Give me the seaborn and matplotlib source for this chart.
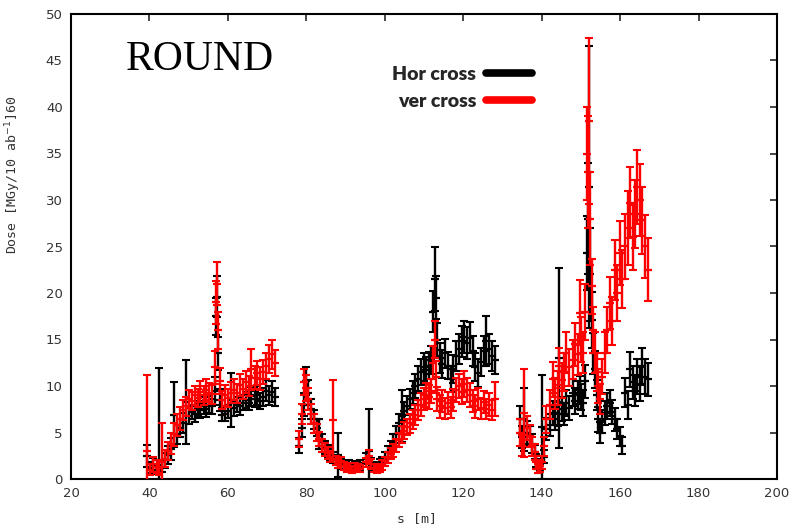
import numpy as np
import pandas as pd
import matplotlib
matplotlib.use("Agg")
import matplotlib.pyplot as plt
import seaborn as sns
from matplotlib.lines import Line2D

# ---------------- data ----------------
S_A = [39.5, 40.2, 41.0, 41.8, 42.5, 43.3, 44.0, 44.8, 45.5, 46.3,
       47.0, 47.8, 48.5, 49.3, 50.0, 50.8, 51.5, 52.3, 53.0, 53.8,
       54.5, 55.3, 56.0, 56.6, 57.0, 57.3, 57.6, 58.0, 58.6, 59.3,
       60.0, 60.8, 61.5, 62.3, 63.0, 63.8, 64.5, 65.3, 66.0, 66.8,
       67.5, 68.3, 69.0, 69.8, 70.5, 71.2, 72.0]
HOR_A = [2.5, 1.2, 1.5, 1.0, 2.0, 1.3, 2.0, 2.6, 3.2, 6.9,
         4.8, 5.5, 6.0, 8.3, 6.8, 7.2, 7.0, 7.6, 7.4, 7.9,
         7.5, 8.0, 7.8, 9.5, 17.5, 19.6, 13.5, 8.5, 6.9, 7.0,
         7.3, 8.5, 7.6, 8.0, 7.8, 8.2, 8.5, 8.2, 8.9, 8.6,
         9.0, 8.4, 8.8, 9.5, 9.0, 9.4, 8.8]
HOR_A_ERR = [1.2, 0.6, 0.8, 0.5, 9.9, 0.6, 0.8, 1.0, 1.2, 3.5,
             1.0, 1.0, 1.1, 4.5, 0.9, 0.8, 0.9, 0.8, 0.8, 0.9,
             0.8, 0.9, 0.8, 1.5, 2.0, 2.2, 1.8, 1.2, 0.7, 0.8,
             0.7, 2.9, 0.8, 0.8, 0.9, 0.8, 0.9, 0.8, 1.0, 0.9,
             1.0, 0.9, 1.0, 1.1, 1.0, 1.1, 1.0]
VER_A = [3.0, 1.0, 1.6, 1.3, 1.2, 1.8, 2.2, 3.0, 3.8, 4.8,
         5.8, 6.5, 7.4, 7.8, 8.6, 8.4, 9.0, 8.7, 9.4, 9.0,
         9.6, 9.3, 9.1, 12.0, 19.0, 21.0, 16.0, 10.5, 8.5, 9.0,
         8.7, 9.3, 9.6, 9.2, 10.1, 9.7, 10.4, 10.0, 11.8, 10.9,
         11.4, 10.8, 11.5, 12.2, 12.9, 13.4, 12.5]
VER_A_ERR = [8.2, 0.6, 0.8, 0.7, 0.8, 4.2, 0.9, 1.0, 1.1, 1.2,
             1.2, 1.2, 1.1, 1.0, 1.0, 1.0, 1.0, 1.0, 1.1, 1.0,
             1.1, 1.0, 1.0, 1.8, 2.3, 2.3, 2.0, 1.4, 1.0, 1.1,
             1.0, 1.1, 1.1, 1.0, 1.2, 1.1, 1.2, 1.1, 2.2, 1.2,
             1.3, 1.2, 1.3, 1.4, 1.5, 1.6, 1.4]

S_B = [78.2, 78.8, 79.4, 79.9, 80.5, 81.2, 81.9, 82.6, 83.3, 84.0,
       84.7, 85.4, 86.1, 86.8, 87.5, 88.2, 88.9, 89.6, 90.3, 91.0,
       91.7, 92.4, 93.1, 93.8, 95.2, 95.9, 96.6, 97.3, 98.0, 98.7,
       99.4, 100.1, 100.8, 101.5, 102.2, 102.9, 103.6, 104.3, 105.0, 105.7,
       106.4, 107.1, 107.8, 108.5, 109.2, 109.9, 110.6, 111.3, 111.9, 112.4,
       112.7, 113.0, 113.4, 114.0, 114.7, 115.4, 116.1, 116.8, 117.5, 118.2,
       118.9, 119.6, 120.3, 121.0, 121.7, 122.4, 123.1, 123.8, 124.5, 125.2,
       125.9, 126.6, 127.3, 128.0]
HOR_B = [3.6, 5.5, 8.0, 10.5, 9.3, 7.5, 6.4, 5.5, 4.8, 4.0,
         3.4, 3.0, 2.6, 2.3, 2.0, 2.6, 1.6, 1.4, 1.2, 1.5,
         1.2, 1.4, 1.3, 1.5, 2.2, 3.0, 1.8, 1.4, 1.3, 1.6,
         1.9, 2.3, 2.9, 3.4, 4.0, 4.8, 6.0, 6.8, 7.3, 7.9,
         8.6, 9.3, 10.0, 10.8, 11.5, 12.0, 11.7, 12.2, 12.8, 18.0,
         21.5, 19.5, 15.0, 13.0, 12.4, 13.5, 12.2, 10.8, 11.8, 13.2,
         14.0, 14.8, 15.3, 14.6, 15.2, 13.8, 12.0, 11.4, 12.6, 13.8,
         14.8, 14.0, 13.2, 12.8]
HOR_B_ERR = [0.8, 1.0, 1.2, 1.5, 1.3, 1.1, 1.0, 0.9, 1.6, 0.8,
             0.7, 0.7, 0.6, 0.6, 0.5, 2.4, 0.5, 0.4, 0.4, 0.5,
             0.4, 0.5, 0.4, 0.5, 0.6, 4.5, 0.5, 0.4, 0.4, 0.5,
             0.5, 0.6, 0.7, 0.7, 0.8, 0.9, 1.0, 2.8, 1.0, 1.0,
             1.1, 1.2, 1.3, 1.3, 1.4, 1.5, 1.4, 1.5, 1.5, 2.2,
             3.4, 2.3, 1.8, 1.6, 1.5, 1.6, 1.5, 1.4, 1.5, 1.6,
             1.6, 1.7, 1.7, 1.7, 1.7, 1.6, 1.5, 1.5, 1.5, 1.6,
             2.7, 1.6, 1.6, 1.5]
VER_B = [4.3, 7.0, 10.4, 9.8, 8.6, 7.0, 6.0, 5.0, 4.3, 3.6,
         3.2, 2.8, 2.4, 6.3, 2.0, 1.7, 1.9, 1.4, 1.1, 1.3,
         1.0, 1.3, 1.2, 1.1, 1.8, 2.5, 1.6, 1.2, 1.0, 1.2,
         1.5, 1.9, 2.3, 2.7, 3.1, 3.6, 4.2, 4.8, 5.2, 5.6,
         6.0, 6.4, 6.9, 7.4, 8.0, 8.6, 9.0, 8.8, 9.5, 12.5,
         15.0, 11.0, 8.6, 7.8, 8.4, 7.6, 8.2, 7.7, 8.5, 9.6,
         10.0, 9.4, 10.2, 9.6, 9.0, 8.4, 7.8, 8.6, 7.6, 8.3,
         7.5, 8.0, 7.4, 8.6]
VER_B_ERR = [0.9, 1.1, 1.4, 1.4, 1.2, 1.1, 1.0, 0.9, 0.8, 0.7,
             0.7, 0.6, 0.6, 4.3, 0.5, 0.5, 0.5, 0.4, 0.4, 0.4,
             0.4, 0.4, 0.4, 0.4, 0.5, 0.6, 0.5, 0.4, 0.4, 0.4,
             0.5, 0.5, 0.6, 0.6, 0.7, 0.7, 0.8, 0.9, 0.9, 0.9,
             1.0, 1.0, 1.1, 1.1, 1.2, 1.2, 1.3, 1.3, 1.3, 1.8,
             2.0, 1.7, 1.3, 1.2, 1.2, 1.1, 1.2, 1.1, 1.2, 1.3,
             1.3, 1.3, 1.4, 1.3, 1.3, 1.2, 1.2, 1.2, 1.1, 1.2,
             1.1, 1.2, 1.1, 1.8]

S_C = [134.4, 135.0, 135.6, 136.2, 136.9, 137.5, 138.2, 138.6, 139.0, 139.5,
       140.0, 140.6, 141.2, 142.0, 142.8, 143.4, 144.1, 144.5, 145.2, 145.8,
       146.3, 147.0, 147.9, 148.6, 149.2, 149.7, 150.1, 150.5, 151.0, 151.5,
       151.8, 152.0, 152.3, 152.8, 153.2, 153.6, 154.0, 154.3, 154.8, 155.4,
       156.1, 156.7, 157.4, 158.0, 158.7, 159.3, 160.0, 160.6, 161.3, 161.9,
       162.6, 163.2, 163.8, 164.4, 165.0, 165.7, 166.4, 167.0]
HOR_C = [6.4, 4.5, 6.4, 5.0, 4.6, 3.8, 2.9, 2.0, 1.1, 1.6,
         5.6, 2.4, 5.4, 5.8, 7.1, 6.5, 7.0, 13.0, 7.5, 7.0,
         8.2, 7.6, 9.3, 8.4, 9.0, 9.6, 8.8, 8.2, 10.5, 24.3,
         28.0, 31.4, 22.0, 17.1, 13.5, 11.8, 9.0, 6.4, 5.0, 6.2,
         7.1, 7.8, 8.2, 7.2, 6.4, 5.4, 4.6, 3.6, 9.3, 8.0,
         11.8, 10.4, 9.5, 11.0, 10.2, 12.1, 11.0, 10.7]
HOR_C_ERR = [1.5, 1.2, 3.4, 1.2, 1.1, 1.0, 0.8, 0.7, 0.5, 0.6,
             5.6, 0.7, 1.2, 1.2, 1.3, 1.2, 1.3, 9.7, 1.3, 1.2,
             1.4, 1.3, 1.5, 1.4, 1.5, 1.5, 1.4, 1.4, 1.8, 4.0,
             6.0, 15.2, 5.0, 3.0, 2.2, 2.0, 1.6, 1.3, 1.1, 1.2,
             1.3, 1.4, 1.4, 1.3, 1.2, 1.1, 1.0, 0.9, 1.6, 1.5,
             1.9, 1.8, 1.7, 1.9, 1.8, 2.0, 1.9, 1.8]
VER_C = [5.0, 3.6, 7.1, 5.5, 4.6, 3.5, 2.9, 1.8, 1.1, 1.4,
         1.8, 3.5, 6.4, 8.0, 10.7, 9.2, 9.8, 12.1, 10.6, 11.5,
         13.6, 12.0, 12.8, 14.5, 13.4, 17.9, 15.0, 13.6, 18.0, 35.0,
         33.0, 38.5, 28.0, 20.7, 16.0, 13.6, 11.5, 10.0, 8.6, 11.0,
         13.6, 16.0, 18.9, 17.0, 22.5, 20.0, 24.3, 21.5, 25.0, 27.0,
         29.7, 26.0, 28.5, 31.4, 30.0, 27.8, 25.0, 22.5]
VER_C_ERR = [1.4, 1.1, 4.7, 1.3, 1.2, 1.0, 0.9, 0.7, 0.5, 0.6,
             0.7, 1.0, 1.4, 1.6, 1.9, 1.7, 1.8, 2.0, 1.9, 2.0,
             2.2, 2.0, 2.1, 2.3, 2.2, 3.5, 2.4, 2.2, 3.0, 5.0,
             6.0, 8.9, 5.0, 3.0, 2.5, 2.2, 2.0, 1.8, 1.6, 1.9,
             2.2, 2.5, 2.8, 2.6, 3.2, 3.0, 3.4, 3.1, 3.5, 4.0,
             3.8, 3.5, 3.7, 4.0, 3.9, 3.6, 3.4, 3.4]

SERIES = ["Hor cross", "ver cross"]
COLORS = ["#000000", "#ff0000"]
X_TICKS = [20, 40, 60, 80, 100, 120, 140, 160, 180, 200]
Y_TICKS = [0, 5, 10, 15, 20, 25, 30, 35, 40, 45, 50]

# ---------------- table ----------------
S = S_A + S_B + S_C
frames = []
for name, vals, errs in [("Hor cross", HOR_A + HOR_B + HOR_C, HOR_A_ERR + HOR_B_ERR + HOR_C_ERR),
                         ("ver cross", VER_A + VER_B + VER_C, VER_A_ERR + VER_B_ERR + VER_C_ERR)]:
    frames.append(pd.DataFrame({"s": S, "dose": vals, "err": errs, "series": name}))
df = pd.concat(frames, ignore_index=True)

# ---------------- plot ----------------
sns.set_style("white")
plt.rcParams["font.family"] = ["DejaVu Sans"]

fig = plt.figure(figsize=(7.92, 5.30), dpi=100)
ax = fig.add_axes([71 / 792, 51 / 530, 706 / 792, 465 / 530])

for i, (name, color) in enumerate(zip(SERIES, COLORS)):
    sub = df[df["series"] == name]
    ax.errorbar(sub["s"], sub["dose"], yerr=sub["err"], fmt="none",
                ecolor=color, elinewidth=1.7, capsize=3.0, capthick=1.5,
                zorder=2 + 2 * i)
    sns.scatterplot(data=sub, x="s", y="dose", color=color, marker="_",
                    s=40, linewidth=1.6, legend=False, ax=ax, zorder=3 + 2 * i)

ax.set_xlim(20, 200)
ax.set_ylim(0, 50)
ax.set_xticks(X_TICKS)
ax.set_yticks(Y_TICKS)
ax.tick_params(direction="in", top=True, right=True, length=5, width=1.2,
               labelsize=9.5, labelcolor="#333333", pad=6)
for sp in ax.spines.values():
    sp.set_visible(True)
    sp.set_linewidth(1.5)
    sp.set_color("black")

ax.set_xlabel("s [m]", fontsize=9.5, family="DejaVu Sans Mono", color="#333333")
ax.xaxis.set_label_coords(0.49, -0.072)
ax.set_ylabel("Dose [MGy/10 ab$^{-1}$]60", fontsize=9.5, family="DejaVu Sans Mono",
              color="#333333")
ax.yaxis.set_label_coords(-0.068, 0.655)

ax.text(0.078, 0.88, "ROUND", transform=ax.transAxes, va="baseline", ha="left",
        family="Liberation Serif", fontsize=30, color="black")

handles = [Line2D([0], [0], color=c, lw=5.5, solid_capstyle="round") for c in COLORS]
ax.legend(handles, SERIES, loc="upper left", bbox_to_anchor=(0.455, 0.888),
          frameon=False, markerfirst=False, handlelength=2.4, handletextpad=0.5,
          labelspacing=0.5, borderpad=0, borderaxespad=0,
          prop=dict(family="Lato", weight="heavy", size=14))

fig.savefig("out.png", dpi=100)
